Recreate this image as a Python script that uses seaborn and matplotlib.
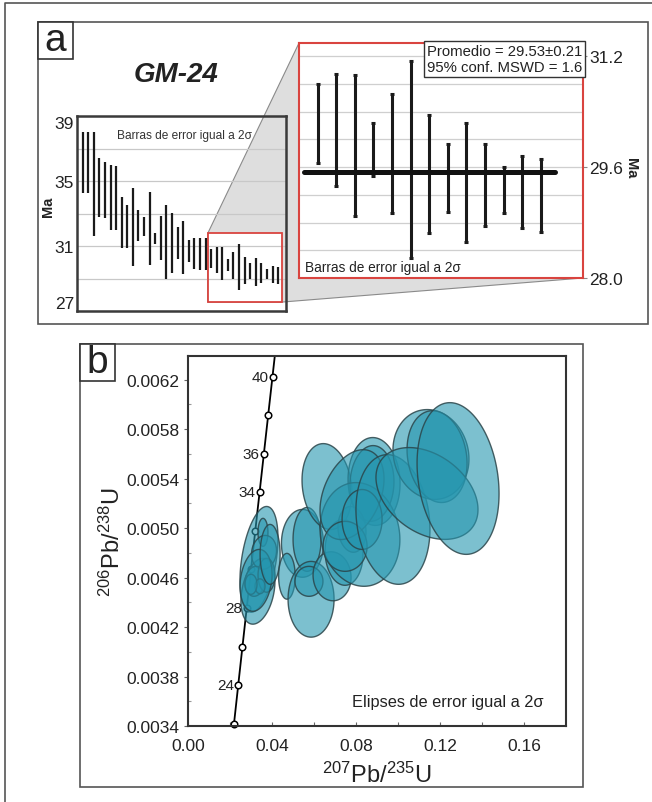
import numpy as np
import matplotlib
matplotlib.use("Agg")
import matplotlib.pyplot as plt
import seaborn as sns
from matplotlib.patches import Rectangle, Polygon

# ---- panel a: single-grain ages (Ma) with 2-sigma errors, oldest to youngest
ages = [36.13, 36.13, 34.80, 34.60, 34.45, 34.00, 33.95, 32.45, 32.20, 32.20,
        32.25, 32.18, 32.08, 31.48, 31.50, 31.23, 31.18, 31.20, 30.90, 30.70,
        30.55, 30.53, 30.53,
        30.23, 30.13, 29.91, 29.85, 29.80, 29.71, 29.50, 29.44, 29.38, 29.34,
        29.27, 29.24, 29.19]
errs = [1.88, 1.88, 3.20, 1.80, 1.75, 2.00, 1.95, 1.55, 1.30, 2.40,
        0.95, 0.58, 2.23, 0.33, 1.35, 2.28, 1.83, 1.00, 1.65, 0.70,
        0.95, 0.98, 0.98,
        0.57, 0.81, 1.02, 0.38, 0.86, 1.42, 0.85, 0.49, 0.86, 0.59,
        0.33, 0.52, 0.52]
N_ZOOM = 13            # youngest grains used for the weighted mean
mean_age = 29.53
mean_err = 0.21
mswd = 1.6

all_yticks = [27, 31, 35, 39]
all_grid = [29, 33, 37]
zoom_yticks = [28.0, 29.6, 31.2]
zoom_grid = [28.4, 28.8, 29.2, 30.0, 30.4, 30.8]

# ---- panel b: concordia (tick marks every 2 Ma) and error ellipses
conc_ages = [22, 24, 26, 28, 30, 32, 34, 36, 38, 40]
conc_x = [0.02190, 0.02391, 0.02593, 0.02796, 0.02999, 0.03203, 0.03408,
          0.03613, 0.03818, 0.04024]
conc_y = [0.003418, 0.003730, 0.004041, 0.004353, 0.004665, 0.004977,
          0.005288, 0.005600, 0.005912, 0.006224]
conc_end = (0.0414, 0.0064)   # curve continues to the top of the frame
labelled_ages = [24, 28, 34, 36, 40]

# centre (207/235, 206/238), half-widths and error correlation
ell_x = [0.0338, 0.0333, 0.0357, 0.0362, 0.0319, 0.0374, 0.0343, 0.0300,
         0.0324, 0.0391,
         0.0545, 0.0567, 0.0471, 0.0586, 0.0576, 0.0686, 0.0743,
         0.0662, 0.0886, 0.0876, 0.0781, 0.0819, 0.0781, 0.0748, 0.0829,
         0.0976, 0.1157, 0.1186, 0.1138, 0.1286]
ell_y = [0.004747, 0.004489, 0.004965, 0.004803, 0.004569, 0.004618,
         0.004529, 0.004545, 0.004577, 0.004787,
         0.004876, 0.004908, 0.004610, 0.004424, 0.004569, 0.004610, 0.004803,
         0.005335, 0.005376, 0.005360, 0.004989, 0.004948, 0.005270,
         0.004852, 0.005069,
         0.005069, 0.005594, 0.005577, 0.005279, 0.005400]
ell_sx = [0.00905, 0.00810, 0.00238, 0.00595, 0.00476, 0.00405, 0.00238,
          0.00286, 0.00762, 0.00476,
          0.0100, 0.00667, 0.00395, 0.01095, 0.00667, 0.00905, 0.00905,
          0.0119, 0.01238, 0.01048, 0.00667, 0.0190, 0.01524, 0.01048,
          0.00952,
          0.01762, 0.0181, 0.01429, 0.02429, 0.01952]
ell_sy = [0.000427, 0.000266, 0.000113, 0.000137, 0.000121, 0.000137,
          0.000060, 0.000081, 0.000250, 0.000242,
          0.000274, 0.000258, 0.000185, 0.000306, 0.000121, 0.000198, 0.000266,
          0.000347, 0.000355, 0.000306, 0.000185, 0.000419, 0.000363,
          0.000202, 0.000242,
          0.000524, 0.000363, 0.000371, 0.000371, 0.000613]
ell_rho = [0.4, 0.3, 0.0, 0.1, 0.1, 0.0, 0.0, 0.0, 0.2, 0.0,
           0.0, 0.0, 0.0, 0.0, 0.0, -0.05, -0.05,
           -0.15, -0.05, 0.05, -0.1, -0.1, 0.35, 0.0, 0.0,
           -0.15, -0.1, -0.15, -0.35, -0.2]

W, H = 652, 803
FILL = (0.145, 0.588, 0.686, 0.6)
EDGE = (0.17, 0.27, 0.29, 0.85)
RED = "#d9443f"
GREY = "#555555"

sns.set_theme(style="white")
plt.rcParams["font.family"] = ["Liberation Sans", "DejaVu Sans"]
plt.rcParams["mathtext.fontset"] = "custom"
plt.rcParams["mathtext.rm"] = "Liberation Sans"
plt.rcParams["mathtext.it"] = "Liberation Sans:italic"
plt.rcParams["mathtext.bf"] = "Liberation Sans:bold"

fig = plt.figure(figsize=(W / 100, H / 100), dpi=100)


def px_axes(l, t, r, b):
    return fig.add_axes([l / W, 1 - b / H, (r - l) / W, (b - t) / H])


# background canvas in pixel units for frames and connector
bg = px_axes(0, 0, W, H)
bg.set_xlim(0, W)
bg.set_ylim(H, 0)
bg.axis("off")
bg.plot([5, 5, W], [H, 4, 4], color=GREY, lw=1.2)
bg.add_patch(Rectangle((38, 23), 610, 302, fill=False, ec=GREY, lw=1.2))
bg.add_patch(Rectangle((80, 345), 503, 443, fill=False, ec=GREY, lw=1.2))
for (l, t), letter in [((38, 23), "a"), ((80, 345), "b")]:
    bg.add_patch(Rectangle((l, t), 35, 37, fc="white", ec="#333333", lw=1.2, zorder=3))
    bg.text(l + 17.5, t + 18, letter, fontsize=28, ha="center", va="center",
            color="#222222", zorder=4)
bg.text(176, 75, "GM-24", fontsize=20, fontweight="bold", fontstyle="italic",
        ha="center", va="center", color="#222222")

# ---- a: all analyses
ax_all = px_axes(77, 117, 286, 312)
ax_all.set_facecolor("none")
idx = np.arange(1, len(ages) + 1)
lo = np.array(ages) - np.array(errs)
hi = np.array(ages) + np.array(errs)
ax_all.vlines(idx, lo, hi, color="#1a1a1a", lw=1.6, zorder=2)
ax_all.set_xlim(0, 37.4)
ax_all.set_ylim(27, 39)
ax_all.set_xticks([])
ax_all.set_yticks(all_yticks)
ax_all.set_yticks(all_grid, minor=True)
ax_all.set_axisbelow(True)
ax_all.grid(axis="y", which="both", color="#c8c8c8", lw=0.9)
ax_all.tick_params(axis="y", length=0, pad=2, labelsize=12.5, labelcolor="#222222")
labels = ax_all.get_yticklabels()
labels[0].set_va("bottom")
labels[-1].set_va("top")
ax_all.text(-0.139, 0.54, "Ma", transform=ax_all.transAxes, rotation=90,
            ha="center", va="center", fontsize=10.5, fontweight="bold", color="#222222")
for s in ax_all.spines.values():
    s.set_color("#3a3a3a")
    s.set_linewidth(1.8)
ax_all.text(0.515, 0.905, "Barras de error igual a 2σ", transform=ax_all.transAxes,
            ha="center", va="center", fontsize=8.6, color="#333333")

box_x0, box_x1 = 23.4, 36.7
box_y0, box_y1 = 27.55, 31.78
ax_all.add_patch(Rectangle((box_x0, box_y0), box_x1 - box_x0, box_y1 - box_y0,
                           fc="white", ec="none", zorder=0.3))
ax_all.add_patch(Rectangle((box_x0, box_y0), box_x1 - box_x0, box_y1 - box_y0,
                           fill=False, ec=RED, lw=1.3, zorder=3))

# ---- a: enlarged inset with the weighted mean
ax_z = px_axes(299, 44, 583, 279)
zi = np.arange(1, N_ZOOM + 1)
ax_z.errorbar(zi, ages[-N_ZOOM:], yerr=errs[-N_ZOOM:], fmt="none",
              ecolor="#1a1a1a", elinewidth=2.2, capsize=1.6, capthick=2.2, zorder=3)
ax_z.hlines(mean_age, 0.27, N_ZOOM + 0.76, color="#111111", lw=3.6,
            capstyle="round", zorder=4)
ax_z.set_xlim(0, 15.26)
ax_z.set_ylim(28.0, 31.39)
ax_z.set_xticks([])
ax_z.yaxis.tick_right()
ax_z.set_yticks(zoom_yticks)
ax_z.set_yticklabels([f"{v:.1f}" for v in zoom_yticks])
ax_z.set_yticks(zoom_grid, minor=True)
ax_z.set_axisbelow(True)
ax_z.grid(axis="y", which="both", color="#cfcfcf", lw=0.9)
ax_z.tick_params(axis="y", which="major", length=3, width=0.8, color="#888888",
                 pad=1.5, labelsize=12.5, labelcolor="#222222")
ax_z.tick_params(axis="y", which="minor", length=0)
ax_z.text(1.168, 0.47, "Ma", transform=ax_z.transAxes, rotation=270,
          ha="center", va="center", fontsize=10.5, fontweight="bold", color="#222222")
for s in ax_z.spines.values():
    s.set_color(RED)
    s.set_linewidth(1.5)
ax_z.text(0.997, 0.995, f"Promedio = {mean_age:.2f}±{mean_err:.2f}\n95% conf. MSWD = {mswd}",
          transform=ax_z.transAxes, ha="right", va="top", fontsize=10.7,
          multialignment="center", color="#222222", zorder=6,
          bbox=dict(boxstyle="square,pad=0.2", fc="white", ec="#333333", lw=1))
ax_z.text(0.022, 0.045, "Barras de error igual a 2σ", transform=ax_z.transAxes,
          ha="left", va="center", fontsize=9.8, color="#222222")

# grey connector between the red box and the inset
to_bg = bg.transData.inverted()
red_tl = to_bg.transform(ax_all.transData.transform((box_x0, box_y1)))
red_br = to_bg.transform(ax_all.transData.transform((box_x1, box_y0)))
red_bl = to_bg.transform(ax_all.transData.transform((box_x0, box_y0)))
z_tl = to_bg.transform(ax_z.transAxes.transform((0, 1)))
z_tr = to_bg.transform(ax_z.transAxes.transform((1, 1)))
z_br = to_bg.transform(ax_z.transAxes.transform((1, 0)))
bg.add_patch(Polygon([red_tl, z_tl, z_tr, z_br, red_br, red_bl], closed=True,
                     fc="#dedede", ec="#8a8a8a", lw=0.8, zorder=0))

# ---- b: concordia diagram
ax_b = px_axes(188, 357, 566, 727)
t = np.linspace(0, 2 * np.pi, 200)
for cx, cy, sx, sy, r in zip(ell_x, ell_y, ell_sx, ell_sy, ell_rho):
    ex = cx + sx * np.cos(t)
    ey = cy + sy * (r * np.cos(t) + np.sqrt(1 - r * r) * np.sin(t))
    ax_b.fill(ex, ey, fc=FILL, ec=EDGE, lw=1.0, zorder=3)

sns.lineplot(x=conc_x + [conc_end[0]], y=conc_y + [conc_end[1]], sort=False,
             estimator=None, color="black", lw=1.3, ax=ax_b, zorder=2)
sns.scatterplot(x=conc_x, y=conc_y, ax=ax_b, marker="o", s=22, color="white",
                edgecolor="black", linewidth=1.1, zorder=2.5, clip_on=False)
for a, x, y in zip(conc_ages, conc_x, conc_y):
    if a in labelled_ages:
        ax_b.annotate(str(a), (x, y), xytext=(-3, 0), textcoords="offset points",
                      ha="right", va="center", fontsize=11, color="#222222")

ax_b.set_xlim(0, 0.18)
ax_b.set_ylim(0.0034, 0.00639)
xt = [0.00, 0.04, 0.08, 0.12, 0.16]
yt = [0.0034, 0.0038, 0.0042, 0.0046, 0.0050, 0.0054, 0.0058, 0.0062]
ax_b.set_xticks(xt)
ax_b.set_xticklabels([f"{v:.2f}" for v in xt])
ax_b.set_xticks([0.02, 0.06, 0.10, 0.14], minor=True)
ax_b.set_yticks(yt)
ax_b.set_yticklabels([f"{v:.4f}" for v in yt])
ax_b.set_yticks([0.0036, 0.0040, 0.0044, 0.0048, 0.0052, 0.0056, 0.0060], minor=True)
ax_b.tick_params(axis="x", which="both", direction="in", length=3, width=0.8,
                 color="#666666", pad=9, labelsize=12.5, labelcolor="#222222")
ax_b.tick_params(axis="y", which="major", direction="out", length=3, width=0.8,
                 color="#666666", pad=3, labelsize=12.5, labelcolor="#222222")
ax_b.tick_params(axis="y", which="minor", direction="in", length=2, width=0.8,
                 color="#999999")
ax_b.tick_params(bottom=True, left=True, which="both")
ax_b.set_xlabel(r"$^{207}$Pb/$^{235}$U", fontsize=17, color="#222222", labelpad=6)
ax_b.set_ylabel(r"$^{206}$Pb/$^{238}$U", fontsize=17, color="#222222", labelpad=1)
for s in ax_b.spines.values():
    s.set_color("#333333")
    s.set_linewidth(1.5)
ax_b.text(0.94, 0.065, "Elipses de error igual a 2σ", transform=ax_b.transAxes,
          ha="right", va="center", fontsize=11.8, color="#222222")

fig.savefig("out.png", dpi=100)
